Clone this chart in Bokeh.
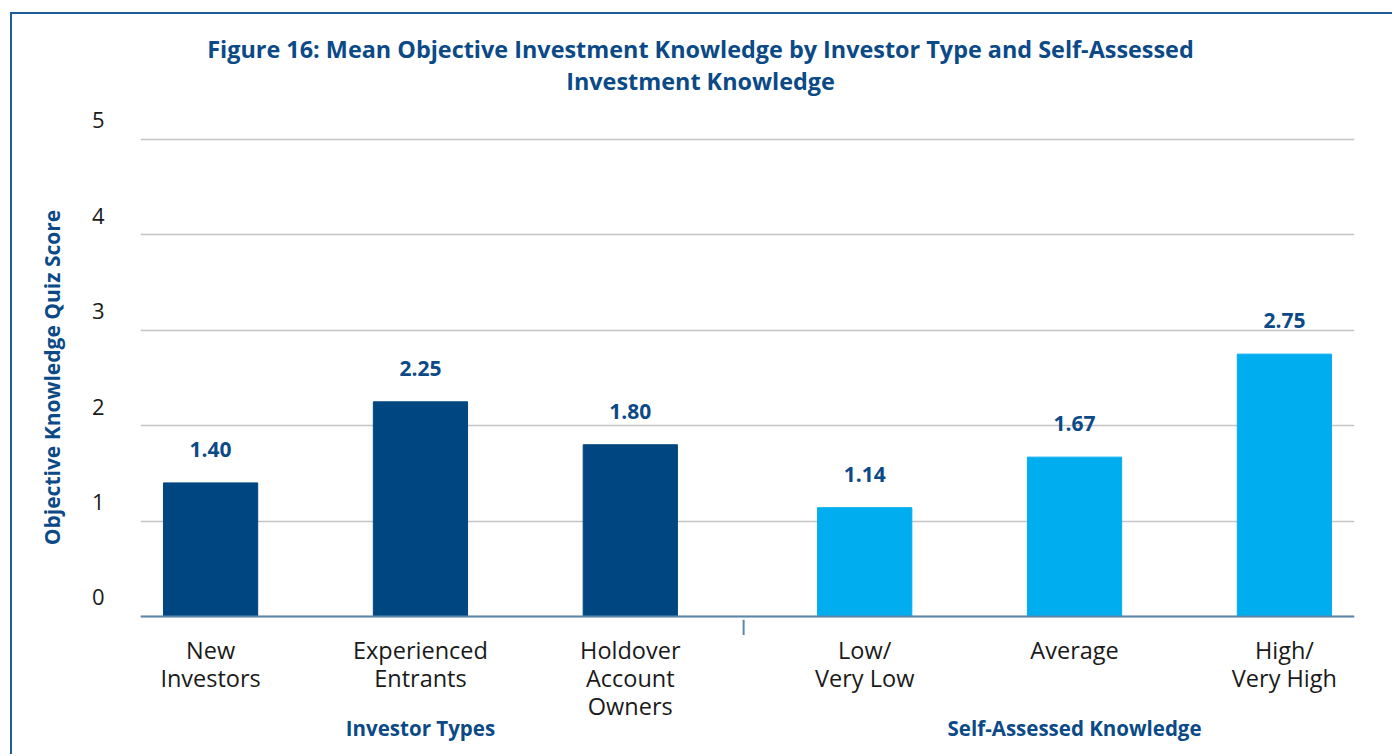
from bokeh.plotting import figure
from bokeh.layouts import column
from bokeh.models import (FactorRange, ColumnDataSource, LabelSet, Label, Span,
                          LinearAxis, Range1d, Grid, FixedTicker)
from bokeh.core.properties import value
from bokeh.embed import file_html
from bokeh.resources import INLINE

# ---- data ----
group_names = ["Investor Types", "Self-Assessed Knowledge"]
groups = [group_names[0]] * 3 + [group_names[1]] * 3
categories = ["New\nInvestors", "Experienced\nEntrants", "Holdover\nAccount\nOwners",
              "Low/\nVery Low", "Average", "High/\nVery High"]
scores = [1.40, 2.25, 1.80, 1.14, 1.67, 2.75]
y_ticks = [0, 1, 2, 3, 4, 5]
title_lines = ["Figure 16: Mean Objective Investment Knowledge by Investor Type and Self-Assessed",
               "Investment Knowledge"]
y_label = "Objective Knowledge Quiz Score"

# ---- styles ----
group_colors = {group_names[0]: "#004680", group_names[1]: "#00adee"}
BLUE_TEXT = "#0b4a87"
AXIS_BLUE = "#5b87ad"
FONT = "Open Sans"
GROUP_PAD = 0.117
W = 1380
LEFT, RIGHT = 128, 38
Y_START, Y_END = -0.2, 5.21
LABEL_SHIFT = 0.2   # tick labels sit slightly above their gridlines

factors = list(zip(groups, categories))
source = ColumnDataSource(dict(
    x=factors,
    top=scores,
    color=[group_colors[g] for g in groups],
    label=[f"{v:.2f}" for v in scores],
    name=categories,
))

x_range = FactorRange(*factors, group_padding=GROUP_PAD, factor_padding=0.0,
                      range_padding=-0.166, range_padding_units="absolute")

# ---------- title strip ----------
TH = 91
tf = figure(width=W, height=TH, x_range=(LEFT, W - RIGHT), y_range=(0, TH),
            output_backend="svg", toolbar_location=None, title_location=None,
            x_axis_location=None, y_axis_location=None,
            min_border_left=LEFT, min_border_right=RIGHT, min_border_top=0,
            min_border_bottom=0)
tf.outline_line_color = None
tf.grid.visible = False
for txt, yy in zip(title_lines, (57, 25)):
    tf.add_layout(Label(x=688, y=yy, text=txt, text_align="center",
                        text_baseline="middle", text_font=FONT,
                        text_font_size="23.4px", text_font_style="bold",
                        text_color=BLUE_TEXT))

# ---------- main chart ----------
p = figure(x_range=x_range, y_range=(Y_START, Y_END), width=W, height=530,
           output_backend="svg", toolbar_location=None, title_location=None,
           x_axis_location=None, y_axis_location=None,
           min_border_left=LEFT, min_border_right=RIGHT, min_border_top=14,
           min_border_bottom=0)
p.outline_line_color = None
p.grid.visible = False
p.extra_y_ranges = {"lbl": Range1d(Y_START - LABEL_SHIFT, Y_END - LABEL_SHIFT)}

p.add_layout(Grid(dimension=1, ticker=FixedTicker(ticks=y_ticks),
                  grid_line_color="#c4c4c4", grid_line_width=1.5))

p.vbar(x="x", top="top", bottom=0, width=0.449, color="color", source=source)

# baseline (value 0) and group separator tick
p.add_layout(Span(location=0, dimension="width", line_color=AXIS_BLUE, line_width=2))
last_of_first = factors[groups.count(group_names[0]) - 1]
sep_x = [(*last_of_first, 0.54)]
p.segment(x0=sep_x, y0=[-0.035], x1=sep_x, y1=[Y_START], line_color=AXIS_BLUE, line_width=2)

labels = LabelSet(x="x", y="top", text="label", source=source,
                  text_align="center", text_baseline="bottom", y_offset=26,
                  text_font_size="21px", text_font_style="bold",
                  text_color=BLUE_TEXT, text_font=value(FONT))
p.add_layout(labels)

yax = LinearAxis(y_range_name="lbl", ticker=FixedTicker(ticks=y_ticks))
yax.axis_line_color = None
yax.major_tick_line_color = None
yax.minor_tick_line_color = None
yax.major_label_text_font = FONT
yax.major_label_text_font_size = "22px"
yax.major_label_text_color = "#1a1a1a"
yax.major_label_standoff = 30
yax.axis_label = y_label
yax.axis_label_text_font = FONT
yax.axis_label_text_font_size = "21px"
yax.axis_label_text_font_style = "bold"
yax.axis_label_text_color = BLUE_TEXT
yax.axis_label_standoff = 23
p.add_layout(yax, "left")

# ---------- category + group labels strip (shares the x scale) ----------
gf = figure(x_range=x_range, y_range=(0, 119), width=W, height=119,
            output_backend="svg", toolbar_location=None, title_location=None,
            x_axis_location=None, y_axis_location=None,
            min_border_left=LEFT, min_border_right=RIGHT, min_border_top=0,
            min_border_bottom=0)
gf.outline_line_color = None
gf.grid.visible = False
gf.text(x="x", y=121, text="name", source=source,
        text_align="center", text_baseline="top", text_font=value(FONT),
        text_font_size="23.5px", text_line_height=0.89, text_color="#1a1a1a")
gf.text(x=group_names, y=[27] * len(group_names), text=group_names,
        text_align="center", text_baseline="middle", text_font=value(FONT),
        text_font_size="20.5px", text_font_style="bold", text_color=BLUE_TEXT)

layout = column(tf, p, gf, margin=(12, 0, 0, 10),
                styles={"border-left": "2px solid #1f5c9c", "border-top": "2px solid #1f5c9c"})

open("out.html", "w").write(file_html(layout, INLINE))
